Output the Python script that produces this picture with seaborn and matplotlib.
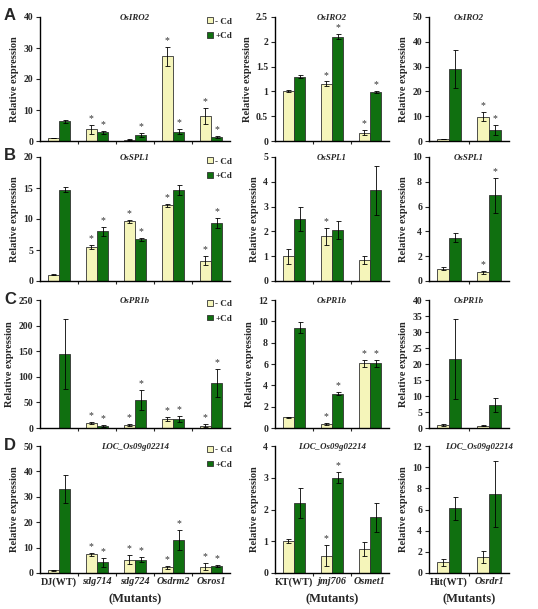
import pandas as pd
import seaborn as sns
import matplotlib.pyplot as plt

genes = ['OsIRO2', 'OsSPL1', 'OsPR1b', 'LOC_Os09g02214']
row_tags = ['A', 'B', 'C', 'D']
treatments = ['- Cd', '+Cd']

mutants_dj = ['DJ(WT)', 'sdg714', 'sdg724', 'Osdrm2', 'Osros1']
mutants_kt = ['KT(WT)', 'jmj706', 'Osmet1']
mutants_hit = ['Hit(WT)', 'Osrdr1']

# each panel: [-Cd values], [+Cd values]
iro2_dj = [[1.0, 3.8, 0.4, 27.3, 8.0], [6.3, 2.8, 2.0, 3.0, 1.3]]
iro2_dj_err = [[0.1, 1.5, 0.1, 3.0, 2.5], [0.5, 0.5, 0.6, 0.9, 0.3]]
iro2_dj_sig = [[0, 1, 0, 1, 1], [0, 1, 1, 1, 1]]
iro2_kt = [[1.0, 1.15, 0.17], [1.3, 2.1, 0.98]]
iro2_kt_err = [[0.02, 0.05, 0.05], [0.03, 0.05, 0.02]]
iro2_kt_sig = [[0, 1, 1], [0, 1, 1]]
iro2_hit = [[0.8, 9.8], [29.0, 4.3]]
iro2_hit_err = [[0.1, 1.8], [7.5, 2.0]]
iro2_hit_sig = [[0, 1], [0, 1]]

spl1_dj = [[1.0, 5.5, 9.6, 12.2, 3.3], [14.7, 8.0, 6.7, 14.7, 9.4]]
spl1_dj_err = [[0.1, 0.3, 0.3, 0.3, 0.7], [0.4, 0.7, 0.3, 0.8, 0.8]]
spl1_dj_sig = [[0, 1, 1, 1, 1], [0, 1, 1, 0, 1]]
spl1_kt = [[1.0, 1.8, 0.85], [2.5, 2.05, 3.65]]
spl1_kt_err = [[0.3, 0.35, 0.17], [0.5, 0.37, 1.0]]
spl1_kt_sig = [[0, 1, 0], [0, 0, 0]]
spl1_hit = [[1.0, 0.7], [3.5, 6.9]]
spl1_hit_err = [[0.15, 0.12], [0.35, 1.4]]
spl1_hit_sig = [[0, 1], [0, 1]]

pr1b_dj = [[0.5, 10, 6, 17, 4], [145, 4, 55, 17, 88]]
pr1b_dj_err = [[0.2, 2, 1.5, 4, 3], [68, 1.5, 20, 6, 27]]
pr1b_dj_sig = [[0, 1, 1, 1, 1], [0, 1, 1, 1, 1]]
pr1b_kt = [[1.0, 0.35, 6.05], [9.4, 3.2, 6.05]]
pr1b_kt_err = [[0.05, 0.1, 0.35], [0.5, 0.15, 0.3]]
pr1b_kt_sig = [[0, 1, 1], [0, 1, 1]]
pr1b_hit = [[1.0, 0.7], [21.7, 7.3]]
pr1b_hit_err = [[0.4, 0.2], [12.5, 2.2]]
pr1b_hit_sig = [[0, 0], [0, 0]]

loc_dj = [[1.0, 7.4, 5.2, 2.3, 2.5], [33.0, 4.2, 5.2, 13.0, 2.8]]
loc_dj_err = [[0.2, 0.6, 1.7, 0.6, 1.4], [5.5, 1.8, 1.0, 4.0, 0.5]]
loc_dj_sig = [[0, 1, 1, 1, 1], [0, 1, 1, 1, 1]]
loc_kt = [[1.0, 0.55, 0.75], [2.2, 3.0, 1.75]]
loc_kt_err = [[0.07, 0.33, 0.22], [0.48, 0.17, 0.45]]
loc_kt_sig = [[0, 1, 0], [0, 1, 0]]
loc_hit = [[1.0, 1.5], [6.1, 7.45]]
loc_hit_err = [[0.3, 0.55], [1.1, 3.1]]
loc_hit_sig = [[0, 0], [0, 0]]

# y axis max / step per column, one entry per gene row
ymax_dj = [40, 20, 250, 50]
step_dj = [10, 5, 50, 10]
ymax_kt = [2.5, 5, 12, 4]
step_kt = [0.5, 1, 2, 1]
ymax_hit = [50, 10, 40, 12]
step_hit = [10, 2, 5, 2]

panels = [
    [(iro2_dj, iro2_dj_err, iro2_dj_sig), (iro2_kt, iro2_kt_err, iro2_kt_sig), (iro2_hit, iro2_hit_err, iro2_hit_sig)],
    [(spl1_dj, spl1_dj_err, spl1_dj_sig), (spl1_kt, spl1_kt_err, spl1_kt_sig), (spl1_hit, spl1_hit_err, spl1_hit_sig)],
    [(pr1b_dj, pr1b_dj_err, pr1b_dj_sig), (pr1b_kt, pr1b_kt_err, pr1b_kt_sig), (pr1b_hit, pr1b_hit_err, pr1b_hit_sig)],
    [(loc_dj, loc_dj_err, loc_dj_sig), (loc_kt, loc_kt_err, loc_kt_sig), (loc_hit, loc_hit_err, loc_hit_sig)],
]
col_mutants = [mutants_dj, mutants_kt, mutants_hit]
col_ymax = [ymax_dj, ymax_kt, ymax_hit]
col_step = [step_dj, step_kt, step_hit]

sns.set_style('ticks')
plt.rcParams['font.family'] = ['Liberation Serif', 'DejaVu Serif']
plt.rcParams['font.weight'] = 'bold'

palette = {'- Cd': '#FFFFB0', '+Cd': '#008000'}

fig = plt.figure(figsize=(5.38, 6.09), dpi=100)
W, H = 538, 609
col_x = [(40, 230), (275, 389), (429, 509)]
row_y = [(17, 141), (157, 281), (300, 428), (446, 573)]

for r in range(4):
    for c in range(3):
        x0, x1 = col_x[c]
        y0, y1 = row_y[r]
        ax = fig.add_axes([x0 / W, 1 - y1 / H, (x1 - x0) / W, (y1 - y0) / H])
        vals, errs, sigs = panels[r][c]
        mutants = col_mutants[c]
        df = pd.DataFrame({
            'mutant': mutants * 2,
            'treat': [treatments[0]] * len(mutants) + [treatments[1]] * len(mutants),
            'value': vals[0] + vals[1],
        })
        sns.barplot(data=df, x='mutant', y='value', hue='treat', order=mutants,
                    hue_order=treatments, palette=palette, errorbar=None, width=0.6,
                    edgecolor='#333333', linewidth=0.6, ax=ax, legend=(c == 0))
        ymax = col_ymax[c][r]
        step = col_step[c][r]
        for cont, v, e, s in zip(ax.containers, vals, errs, sigs):
            xs = [b.get_x() + b.get_width() / 2 for b in cont]
            ax.errorbar(xs, v, yerr=e, fmt='none', ecolor='black', elinewidth=0.6,
                        capsize=1.8, capthick=0.6)
            for x, vv, ee, ss in zip(xs, v, e, s):
                if ss:
                    ax.text(x, vv + ee + ymax * 0.015, '*', ha='center', va='bottom',
                            fontsize=7, fontweight='normal', color='#333333')
        n = len(mutants)
        ax.set_ylim(0, ymax)
        ticks = [i * step for i in range(int(round(ymax / step)) + 1)]
        ax.set_yticks(ticks)
        ax.set_yticklabels(['%g' % t for t in ticks], fontsize=7, fontweight='bold')
        ax.set_xlim(-0.5, n - 0.5)
        ax.set_xticks([i + 0.5 for i in range(n - 1)], minor=True)
        ax.tick_params(axis='x', which='major', length=0, pad=3)
        ax.tick_params(axis='x', which='minor', length=2.5, width=0.8, direction='out')
        ax.tick_params(axis='y', length=3, width=0.8, direction='out', pad=2)
        for sp in ['top', 'right']:
            ax.spines[sp].set_visible(False)
        for sp in ['left', 'bottom']:
            ax.spines[sp].set_linewidth(1.0)
            ax.spines[sp].set_color('black')
        ax.set_ylabel('Relative expression', fontsize=7.5, fontweight='bold', labelpad=3)
        tx = 0.62 if (c == 2 and r == 3) else 0.5
        ax.text(tx, 0.99, genes[r], transform=ax.transAxes, ha='center', va='center',
                fontsize=6.4, fontstyle='italic', fontweight='bold')
        if r == 3:
            ax.set_xticks(range(n))
            ax.set_xticklabels(mutants, fontsize=7.3, fontweight='bold')
            for lbl in ax.get_xticklabels():
                if 'WT' not in lbl.get_text():
                    lbl.set_fontstyle('italic')
            ax.set_xlabel('(Mutants)', fontsize=9, fontweight='bold', labelpad=5)
        else:
            ax.set_xticks(range(n))
            ax.set_xticklabels([])
            ax.set_xlabel('')
        if c == 0:
            handles, labels = ax.get_legend_handles_labels()
            ax.legend(handles, labels, loc='upper right', bbox_to_anchor=(1.04, 1.04),
                      frameon=False, fontsize=6.5, handlelength=0.6, handleheight=0.6,
                      handletextpad=0.3, labelspacing=0.7, borderaxespad=0.2)

for tag, (y0, y1) in zip(row_tags, row_y):
    fig.text(4 / W, 1 - (y0 - 1) / H, tag, fontsize=12, fontweight='bold',
             family='Liberation Sans', ha='left', va='center')

fig.savefig('out.png', dpi=100)
